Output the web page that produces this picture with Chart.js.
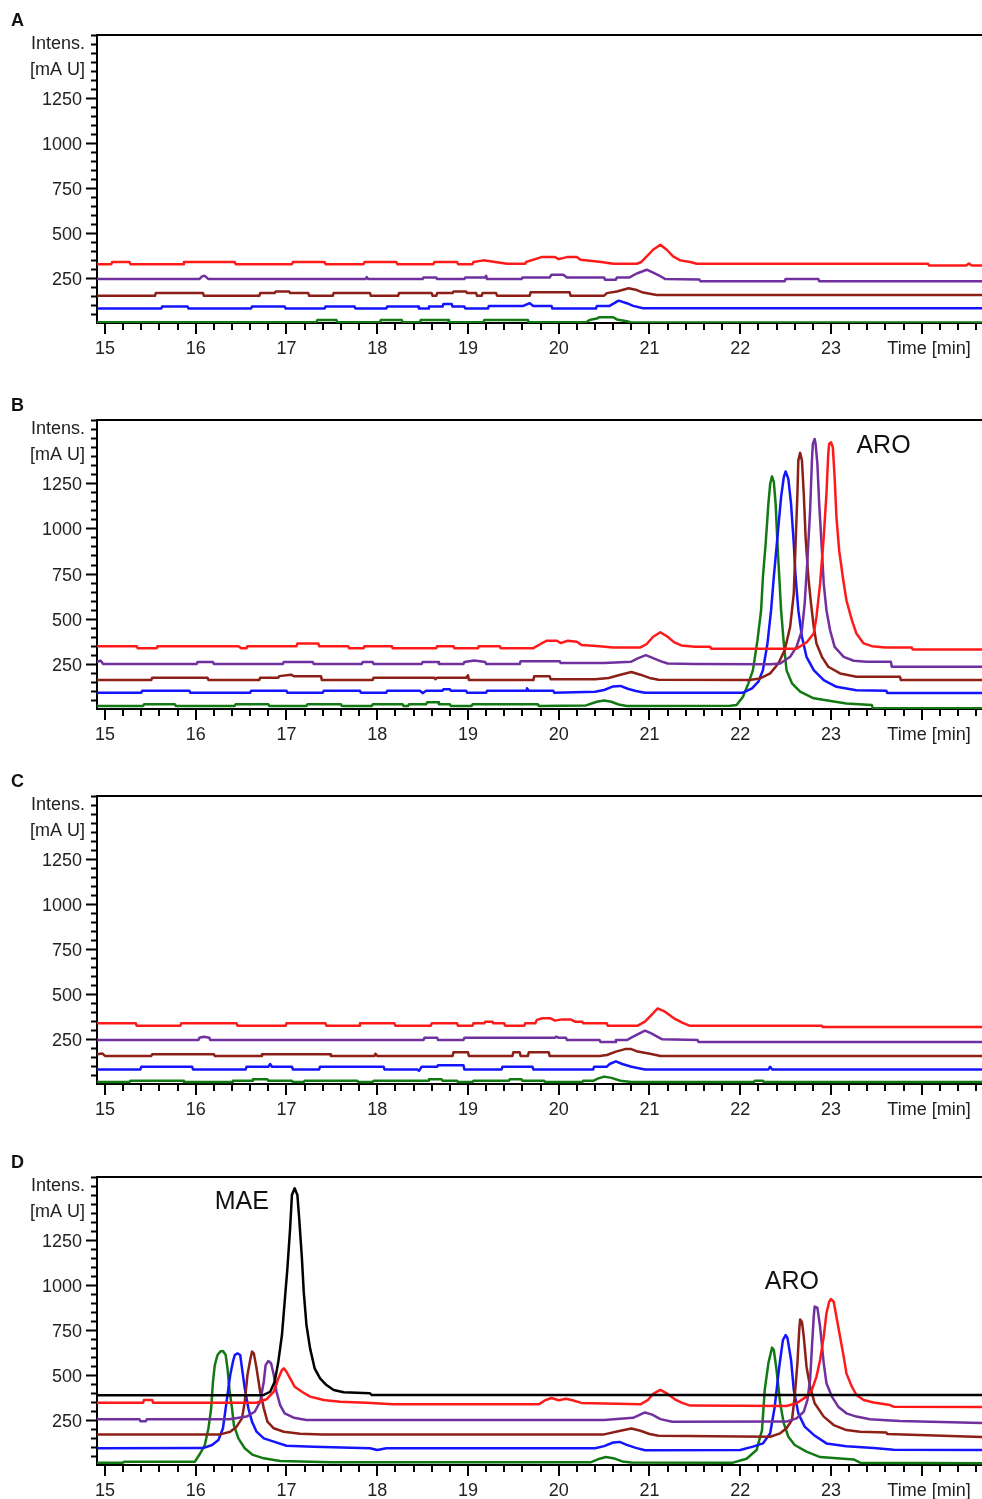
<!DOCTYPE html>
<html>
<head>
<meta charset="utf-8">
<script src="https://cdn.jsdelivr.net/npm/chart.js@4.4.0/dist/chart.umd.min.js"></script>
<style>
  html, body { margin: 0; padding: 0; background: #fff; }
  #wrap { position: relative; width: 982px; height: 1499px; overflow: hidden; background: #fff; }
  #wrap canvas { position: absolute; left: 0; }
</style>
</head>
<body>
<div id="wrap"></div>
<script>
// ---- Chromatogram traces: [retention time (min), intensity (mAU)] ----

// Panel A
const aRed = [[14.91,327],[15.07,327],[15.08,339],[15.27,339],[15.28,327],[15.86,327],[15.87,339],[16.43,339],[16.44,327],[17.06,327],[17.07,339],[17.42,339],[17.43,327],[17.85,327],[17.86,339],[18.21,339],[18.22,327],[18.62,327],[18.63,339],[18.88,339],[18.89,327],[19.05,327],[19.06,339],[19.17,348],[19.3,339],[19.43,329],[19.63,329],[19.64,339],[19.74,355],[19.81,366],[19.96,366],[20.0,355],[20.09,366],[20.2,366],[20.24,351],[20.47,339],[20.6,329],[20.86,329],[20.91,339],[20.97,370],[21.04,407],[21.12,435],[21.19,407],[21.26,370],[21.34,348],[21.45,339],[21.52,329],[24.07,329],[24.08,320],[24.49,320],[24.52,331],[24.55,320],[24.67,320]];
const aPurple = [[14.91,244],[16.04,244],[16.07,259],[16.1,262],[16.14,244],[17.87,244],[17.885,255],[17.9,244],[18.5,244],[18.51,253],[18.65,253],[18.66,244],[18.96,244],[18.97,253],[19.19,253],[19.2,262],[19.21,244],[19.59,244],[19.6,253],[19.9,253],[19.92,268],[20.05,268],[20.09,253],[20.5,253],[20.51,240],[20.63,240],[20.64,253],[20.78,253],[20.86,275],[20.97,296],[21.04,280],[21.12,260],[21.17,245],[21.55,242],[21.56,232],[22.49,232],[22.5,245],[22.86,245],[22.87,232],[24.67,232]];
const aBrown = [[14.91,151],[15.55,151],[15.56,166],[16.08,166],[16.09,151],[16.7,151],[16.71,166],[16.87,166],[16.88,175],[17.03,175],[17.04,166],[17.24,166],[17.25,151],[17.51,151],[17.52,166],[17.92,166],[17.93,151],[18.23,151],[18.24,166],[18.6,166],[18.61,151],[18.65,151],[18.66,166],[18.83,166],[18.84,175],[18.98,175],[18.99,166],[19.09,166],[19.1,151],[19.15,151],[19.16,166],[19.31,166],[19.32,152],[19.68,152],[19.69,171],[20.12,171],[20.13,152],[20.5,152],[20.53,166],[20.64,175],[20.77,193],[20.86,183],[20.93,169],[21.08,155],[24.67,155]];
const aBlue = [[14.91,80],[15.62,80],[15.63,91],[15.91,91],[15.92,80],[16.61,80],[16.62,91],[16.98,91],[16.99,80],[17.42,80],[17.43,91],[17.75,91],[17.76,80],[18.1,80],[18.11,91],[18.45,91],[18.46,80],[18.56,80],[18.57,91],[18.72,91],[18.73,106],[18.82,106],[18.83,91],[18.96,91],[18.97,80],[19.22,80],[19.23,95],[19.61,95],[19.68,110],[19.72,95],[19.92,95],[19.93,80],[20.41,80],[20.42,95],[20.56,95],[20.66,124],[20.75,110],[20.82,95],[20.93,82],[24.67,82]];
const aGreen = [[14.91,4],[17.33,4],[17.34,17],[17.55,17],[17.56,4],[18.03,4],[18.04,17],[18.27,17],[18.28,4],[18.47,4],[18.48,17],[18.78,17],[18.79,4],[19.17,4],[19.18,17],[19.66,17],[19.67,4],[20.3,4],[20.34,17],[20.42,25],[20.45,32],[20.6,32],[20.64,20],[20.75,10],[20.8,3],[24.67,3]];

// Panel B
const bRed = [[14.91,348],[15.35,348],[15.36,337],[15.57,337],[15.58,348],[16.47,348],[16.5,337],[16.56,337],[16.57,348],[17.11,348],[17.12,363],[17.35,363],[17.36,348],[17.68,348],[17.69,337],[17.85,337],[17.86,348],[18.16,348],[18.17,337],[18.65,337],[18.66,348],[18.84,348],[18.85,337],[19.11,337],[19.12,348],[19.35,348],[19.36,337],[19.72,337],[19.8,360],[19.87,378],[19.98,378],[20.02,365],[20.1,378],[20.2,372],[20.25,355],[20.45,348],[20.6,341],[20.9,341],[20.97,360],[21.04,400],[21.12,425],[21.2,400],[21.27,370],[21.35,352],[21.5,345],[21.67,344],[21.68,334],[22.62,334],[22.73,368],[22.81,418],[22.84,510],[22.88,694],[22.92,952],[22.95,1192],[22.97,1413],[22.98,1468],[23.0,1477],[23.02,1450],[23.04,1284],[23.06,1063],[23.09,878],[23.13,731],[23.17,602],[23.23,492],[23.28,418],[23.36,363],[23.45,348],[23.6,340],[23.89,340],[23.9,330],[24.67,330]];
const bPurple = [[14.91,260],[14.95,268],[14.98,249],[16.01,249],[16.02,260],[16.19,260],[16.2,249],[16.96,249],[16.97,260],[17.29,260],[17.3,249],[17.83,249],[17.84,260],[17.95,260],[17.96,249],[18.49,249],[18.5,260],[18.67,260],[18.68,249],[18.95,249],[18.96,260],[19.07,268],[19.19,260],[19.2,249],[19.57,249],[19.58,265],[20.01,265],[20.02,255],[20.5,255],[20.8,262],[20.87,280],[20.96,298],[21.04,282],[21.12,265],[21.2,252],[21.5,249],[22.33,248],[22.44,252],[22.55,289],[22.62,344],[22.68,436],[22.71,584],[22.74,823],[22.77,1099],[22.79,1376],[22.8,1468],[22.82,1495],[22.83,1468],[22.85,1358],[22.87,1136],[22.9,878],[22.92,694],[22.95,547],[22.99,436],[23.04,344],[23.14,289],[23.25,267],[23.39,262],[23.66,261],[23.67,234],[24.67,234]];
const bBrown = [[14.91,160],[15.51,160],[15.52,173],[16.13,173],[16.14,160],[16.7,160],[16.71,173],[16.91,173],[16.92,182],[17.05,190],[17.08,182],[17.38,182],[17.39,160],[17.95,160],[17.96,173],[18.63,173],[18.64,165],[18.66,173],[18.98,173],[19.0,187],[19.01,160],[19.72,160],[19.73,182],[19.9,182],[19.91,165],[20.4,165],[20.55,172],[20.68,190],[20.8,205],[20.9,190],[21.0,172],[21.1,162],[22.1,160],[22.22,169],[22.33,197],[22.42,252],[22.49,326],[22.55,455],[22.59,639],[22.61,915],[22.63,1192],[22.64,1376],[22.66,1418],[22.68,1376],[22.7,1192],[22.72,952],[22.75,731],[22.78,584],[22.81,455],[22.84,363],[22.9,289],[22.97,234],[23.1,197],[23.28,179],[23.54,178],[23.76,178],[23.77,160],[24.67,160]];
const bBlue = [[14.91,90],[15.4,90],[15.41,101],[15.93,101],[15.94,90],[16.6,90],[16.61,101],[17.0,101],[17.01,90],[17.4,90],[17.41,101],[17.81,101],[17.82,90],[18.1,90],[18.11,101],[18.47,101],[18.5,88],[18.54,101],[18.72,101],[18.73,110],[18.8,110],[18.81,101],[18.98,101],[18.99,90],[19.2,90],[19.21,101],[19.64,101],[19.65,115],[19.67,101],[19.94,101],[19.95,90],[20.4,95],[20.5,105],[20.6,125],[20.68,128],[20.76,112],[20.85,100],[20.95,90],[22.03,90],[22.13,114],[22.2,151],[22.25,215],[22.3,363],[22.34,547],[22.37,731],[22.41,952],[22.45,1173],[22.48,1284],[22.5,1315],[22.53,1274],[22.56,1136],[22.59,915],[22.61,731],[22.64,547],[22.68,400],[22.73,289],[22.81,215],[22.92,160],[23.06,123],[23.28,104],[23.61,101],[23.62,88],[24.67,88]];
const bGreen = [[14.91,17],[15.42,17],[15.43,26],[15.77,26],[15.78,17],[16.43,17],[16.44,26],[16.8,26],[16.81,17],[17.22,17],[17.23,26],[17.6,26],[17.61,17],[17.94,17],[17.95,26],[18.28,26],[18.29,17],[18.34,17],[18.35,26],[18.54,26],[18.55,37],[18.67,37],[18.68,26],[18.8,26],[18.81,17],[19.04,17],[19.05,26],[19.77,26],[19.78,17],[20.3,20],[20.42,40],[20.5,47],[20.58,40],[20.66,25],[20.75,17],[21.89,18],[21.96,22],[22.03,68],[22.09,142],[22.14,215],[22.19,381],[22.23,547],[22.25,731],[22.28,915],[22.31,1136],[22.33,1247],[22.35,1288],[22.37,1257],[22.39,1136],[22.41,915],[22.43,731],[22.45,547],[22.48,363],[22.51,215],[22.57,142],[22.66,96],[22.81,59],[23.03,41],[23.17,31],[23.45,22],[23.46,4],[24.67,4]];

// Panel C
const cRed = [[14.91,337],[15.34,337],[15.35,324],[15.83,324],[15.84,337],[16.45,337],[16.46,324],[16.99,324],[17.0,337],[17.43,337],[17.44,324],[17.8,324],[17.81,337],[18.19,337],[18.2,324],[18.59,324],[18.6,337],[18.88,337],[18.89,324],[19.05,324],[19.06,337],[19.18,337],[19.19,346],[19.27,346],[19.28,337],[19.4,337],[19.41,324],[19.62,324],[19.63,337],[19.74,337],[19.76,356],[19.82,365],[19.91,365],[19.96,352],[20.04,359],[20.13,359],[20.18,346],[20.26,346],[20.27,337],[20.53,337],[20.54,324],[20.87,324],[20.95,346],[21.02,383],[21.09,420],[21.17,402],[21.27,365],[21.36,341],[21.44,324],[22.9,324],[22.91,317],[24.67,317]];
const cPurple = [[14.91,244],[16.03,244],[16.04,257],[16.09,263],[16.15,257],[16.16,244],[18.51,244],[18.52,257],[18.66,257],[18.67,244],[18.95,244],[18.96,257],[19.96,257],[19.97,263],[20.0,257],[20.08,257],[20.09,244],[20.45,244],[20.46,233],[20.62,233],[20.63,244],[20.75,244],[20.82,263],[20.95,296],[21.02,281],[21.14,248],[21.53,244],[21.54,233],[24.67,233]];
const cBrown = [[14.91,165],[14.97,170],[15.0,156],[15.51,156],[15.52,165],[16.2,165],[16.21,156],[16.72,156],[16.73,165],[17.48,165],[17.49,156],[17.97,156],[17.98,168],[18.0,156],[18.83,156],[18.84,176],[19.0,176],[19.01,156],[19.49,156],[19.5,176],[19.57,176],[19.58,156],[19.66,156],[19.67,176],[19.89,176],[19.9,156],[20.45,156],[20.53,161],[20.63,180],[20.73,194],[20.8,194],[20.87,180],[21.02,167],[21.12,156],[24.67,156]];
const cBlue = [[14.91,81],[15.39,81],[15.4,96],[15.96,96],[15.97,81],[16.55,81],[16.56,96],[16.8,96],[16.82,111],[16.84,96],[17.06,96],[17.07,81],[17.36,81],[17.37,96],[18.07,96],[18.08,81],[18.44,81],[18.46,74],[18.49,96],[18.66,96],[18.67,104],[18.95,104],[18.96,81],[19.37,81],[19.38,96],[19.71,96],[19.72,81],[20.38,81],[20.39,96],[20.53,96],[20.56,111],[20.63,126],[20.7,111],[20.8,96],[20.95,81],[22.31,81],[22.33,96],[22.35,81],[24.67,81]];
const cGreen = [[14.91,11],[15.27,11],[15.28,18],[15.86,18],[15.87,11],[16.4,11],[16.41,18],[16.62,18],[16.63,26],[16.79,26],[16.8,18],[17.06,18],[17.07,11],[17.19,11],[17.2,18],[17.78,18],[17.79,11],[17.95,11],[17.96,18],[18.56,18],[18.57,26],[18.71,26],[18.72,18],[18.88,18],[18.89,11],[19.05,11],[19.06,18],[19.45,18],[19.46,26],[19.59,26],[19.6,18],[19.84,18],[19.85,11],[20.26,11],[20.27,18],[20.38,18],[20.43,30],[20.5,41],[20.58,34],[20.68,18],[20.8,11],[22.15,11],[22.16,18],[22.25,18],[22.26,11],[24.67,11]];

// Panel D
const dBlack = [[14.91,387],[16.7,387],[16.75,389],[16.82,407],[16.87,463],[16.91,574],[16.95,722],[16.98,907],[17.01,1092],[17.04,1315],[17.06,1500],[17.09,1537],[17.12,1500],[17.14,1370],[17.17,1148],[17.19,963],[17.22,778],[17.26,648],[17.31,537],[17.37,481],[17.44,444],[17.52,417],[17.63,404],[17.92,398],[17.94,389],[24.67,389]];
const dRed = [[14.91,346],[15.42,346],[15.43,361],[15.52,361],[15.53,346],[16.67,346],[16.78,365],[16.86,407],[16.91,481],[16.95,528],[16.97,537],[17.0,518],[17.04,481],[17.09,435],[17.17,407],[17.26,380],[17.41,361],[17.59,352],[17.88,346],[18.18,337],[19.78,337],[19.85,360],[19.92,372],[20.0,360],[20.08,368],[20.15,360],[20.25,345],[20.9,337],[20.98,360],[21.04,395],[21.12,417],[21.2,395],[21.28,365],[21.36,345],[21.45,330],[22.51,328],[22.62,343],[22.73,380],[22.79,417],[22.84,491],[22.88,583],[22.92,713],[22.95,843],[22.98,907],[23.0,922],[23.03,907],[23.06,824],[23.1,713],[23.14,602],[23.17,509],[23.23,435],[23.28,389],[23.36,361],[23.47,347],[23.65,333],[23.69,324],[24.67,322]];
const dPurple = [[14.91,254],[15.38,254],[15.39,243],[15.45,243],[15.46,254],[16.37,254],[16.56,269],[16.65,296],[16.71,352],[16.75,463],[16.77,555],[16.8,578],[16.83,565],[16.86,500],[16.89,407],[16.93,333],[16.98,287],[17.08,263],[17.22,250],[20.5,250],[20.82,262],[20.95,292],[21.03,280],[21.12,255],[21.25,240],[22.51,241],[22.62,259],[22.7,296],[22.74,361],[22.77,472],[22.79,657],[22.81,824],[22.82,880],[22.85,874],[22.88,769],[22.92,565],[22.95,454],[23.01,380],[23.08,324],[23.17,287],[23.28,269],[23.43,254],[23.61,248],[23.76,244],[24.67,233]];
const dBrown = [[14.91,170],[16.27,170],[16.38,185],[16.45,213],[16.51,259],[16.54,352],[16.57,500],[16.6,583],[16.62,630],[16.64,620],[16.67,537],[16.71,407],[16.75,315],[16.79,241],[16.86,204],[16.97,185],[17.15,174],[17.4,170],[20.5,170],[20.68,190],[20.8,203],[20.9,190],[21.0,172],[21.1,162],[22.33,157],[22.44,176],[22.51,204],[22.57,250],[22.6,380],[22.63,565],[22.65,750],[22.66,809],[22.68,795],[22.7,713],[22.73,546],[22.77,435],[22.82,343],[22.92,269],[23.03,222],[23.17,194],[23.32,185],[23.61,180],[23.62,172],[24.67,156]];
const dBlue = [[14.91,93],[16.08,94],[16.18,111],[16.25,139],[16.3,204],[16.34,352],[16.38,500],[16.41,574],[16.43,611],[16.46,620],[16.49,611],[16.51,537],[16.54,426],[16.58,315],[16.62,241],[16.67,185],[16.75,148],[16.86,130],[17.0,107],[17.3,102],[17.92,93],[18.0,83],[18.1,93],[20.4,93],[20.5,105],[20.6,125],[20.67,128],[20.75,112],[20.85,95],[20.95,82],[22.0,83],[22.14,102],[22.25,120],[22.33,176],[22.38,324],[22.43,546],[22.47,694],[22.5,722],[22.52,706],[22.56,583],[22.59,417],[22.64,287],[22.71,213],[22.81,167],[22.95,120],[23.17,104],[23.47,94],[23.69,85],[24.67,83]];
const dGreen = [[14.91,13],[15.2,13],[15.21,18],[15.99,18],[16.05,65],[16.1,111],[16.14,204],[16.17,315],[16.19,463],[16.21,555],[16.24,611],[16.27,630],[16.3,633],[16.33,611],[16.35,537],[16.37,426],[16.4,315],[16.42,222],[16.47,148],[16.54,93],[16.63,56],[16.75,37],[16.93,22],[17.5,15],[20.35,15],[20.45,35],[20.52,44],[20.6,38],[20.7,20],[20.8,14],[21.92,13],[22.07,35],[22.18,83],[22.24,194],[22.27,417],[22.31,565],[22.35,652],[22.37,639],[22.4,528],[22.44,343],[22.48,231],[22.53,157],[22.6,111],[22.73,74],[22.88,44],[23.25,31],[23.32,13],[24.67,10]];

// ---- Axes ----
const timeTicks = [15, 16, 17, 18, 19, 20, 21, 22, 23, 24];
const labelledTimeMax = 23;
const intensityTicks = [250, 500, 750, 1000, 1250];
const TIME_MIN = 14.912, TIME_MAX = 24.664;
const INT_MAX = 1600;

const colors = {
  black: '#000000', red: '#ff1a1a', purple: '#7030a0',
  brown: '#8c1f16', blue: '#1414ff', green: '#137a13'
};

const FONT = '"Liberation Sans", Arial, Helvetica, sans-serif';
const PAD_TOP = 26, AXIS_H = 46, Y_AXIS_W = 97;

const panels = [
  { letter: 'A', top: 35, bottom: 323, traces: { red: aRed, purple: aPurple, brown: aBrown, blue: aBlue, green: aGreen }, notes: [] },
  { letter: 'B', top: 420, bottom: 709, traces: { red: bRed, purple: bPurple, brown: bBrown, blue: bBlue, green: bGreen }, notes: [{ text: 'ARO', t: 23.28, v: 1453 }] },
  { letter: 'C', top: 796, bottom: 1084, traces: { red: cRed, purple: cPurple, brown: cBrown, blue: cBlue, green: cGreen }, notes: [] },
  { letter: 'D', top: 1177, bottom: 1465, traces: { black: dBlack, red: dRed, purple: dPurple, brown: dBrown, blue: dBlue, green: dGreen },
    notes: [{ text: 'MAE', t: 16.21, v: 1461 }, { text: 'ARO', t: 22.27, v: 1017 }] }
];

// Frame, minor ticks and captions in the chromatogram style
const chromFrame = {
  id: 'chromFrame',
  afterDraw(chart, args, opts) {
    const ctx = chart.ctx;
    const area = chart.chartArea;
    const xs = chart.scales.x, ys = chart.scales.y;
    ctx.save();
    ctx.strokeStyle = '#000';
    ctx.lineWidth = 2;
    ctx.beginPath();
    ctx.moveTo(area.left - 1, area.top);
    ctx.lineTo(area.right, area.top);
    // time ticks every 0.2 min, longer at whole minutes
    for (let k = 75; k / 5 <= TIME_MAX; k++) {
      const px = Math.round(xs.getPixelForValue(k / 5));
      const len = (k % 5 === 0) ? 11 : 7;
      ctx.moveTo(px, area.bottom);
      ctx.lineTo(px, area.bottom + len);
    }
    // intensity ticks every 50 mAU, longer at labelled values
    for (let v = 50; v <= INT_MAX; v += 50) {
      const py = Math.round(ys.getPixelForValue(v)) + 0.5;
      const len = intensityTicks.includes(v) ? 11 : 6;
      ctx.moveTo(area.left - len, py);
      ctx.lineTo(area.left, py);
    }
    ctx.stroke();

    ctx.fillStyle = '#111';
    ctx.font = 'bold 18px ' + FONT;
    ctx.textAlign = 'left';
    ctx.textBaseline = 'middle';
    ctx.fillText(opts.letter, 11, area.top - 14);

    ctx.fillStyle = '#222';
    ctx.font = '18px ' + FONT;
    ctx.textAlign = 'right';
    ctx.fillText('Intens.', 85, ys.getPixelForValue(1560) + 2);
    ctx.fillText('[mA U]', 85, ys.getPixelForValue(1415) + 2);
    ctx.textAlign = 'center';
    ctx.fillText('Time [min]', xs.getPixelForValue(24.08), area.bottom + 26);

    ctx.fillStyle = '#111';
    ctx.font = '25px ' + FONT;
    ctx.textAlign = 'left';
    for (const n of opts.notes) {
      ctx.fillText(n.text, xs.getPixelForValue(n.t), ys.getPixelForValue(n.v));
    }
    ctx.restore();
  }
};

const wrap = document.getElementById('wrap');
const drawOrder = ['black', 'red', 'purple', 'brown', 'blue', 'green'];

panels.forEach(p => {
  const plotH = p.bottom - p.top;
  const canvas = document.createElement('canvas');
  canvas.width = 982;
  canvas.height = PAD_TOP + plotH + AXIS_H;
  canvas.style.top = (p.top - PAD_TOP) + 'px';
  canvas.style.width = '982px';
  canvas.style.height = canvas.height + 'px';
  wrap.appendChild(canvas);

  const datasets = drawOrder.filter(name => p.traces[name]).map(name => ({
    label: name,
    data: p.traces[name].map(([t, v]) => ({ x: t, y: v })),
    borderColor: colors[name],
    borderWidth: 2.5,
    borderJoinStyle: 'round',
    pointRadius: 0,
    fill: false,
    tension: 0
  }));

  new Chart(canvas, {
    type: 'line',
    data: { datasets },
    plugins: [chromFrame],
    options: {
      responsive: false,
      animation: false,
      devicePixelRatio: 1,
      layout: { padding: { top: PAD_TOP, left: 0, right: 0, bottom: 0 } },
      plugins: {
        legend: { display: false },
        tooltip: { enabled: false },
        chromFrame: { letter: p.letter, notes: p.notes }
      },
      scales: {
        x: {
          type: 'linear',
          min: TIME_MIN,
          max: TIME_MAX,
          afterBuildTicks(scale) { scale.ticks = timeTicks.map(v => ({ value: v })); },
          afterFit(scale) { scale.height = AXIS_H; },
          grid: { display: false, drawTicks: false },
          border: { display: true, color: '#000', width: 2 },
          ticks: {
            autoSkip: false, maxRotation: 0, minRotation: 0, padding: 15,
            color: '#222', font: { family: FONT, size: 18 },
            callback: v => (v <= labelledTimeMax ? String(v) : '')
          }
        },
        y: {
          type: 'linear',
          min: 0,
          max: INT_MAX,
          afterBuildTicks(scale) { scale.ticks = intensityTicks.map(v => ({ value: v })); },
          afterFit(scale) { scale.width = Y_AXIS_W; },
          grid: { display: false, drawTicks: false },
          border: { display: true, color: '#000', width: 2 },
          ticks: {
            padding: 15, labelOffset: 2, color: '#222', font: { family: FONT, size: 18 },
            callback: v => String(v)
          }
        }
      }
    }
  });
});
</script>
</body>
</html>
